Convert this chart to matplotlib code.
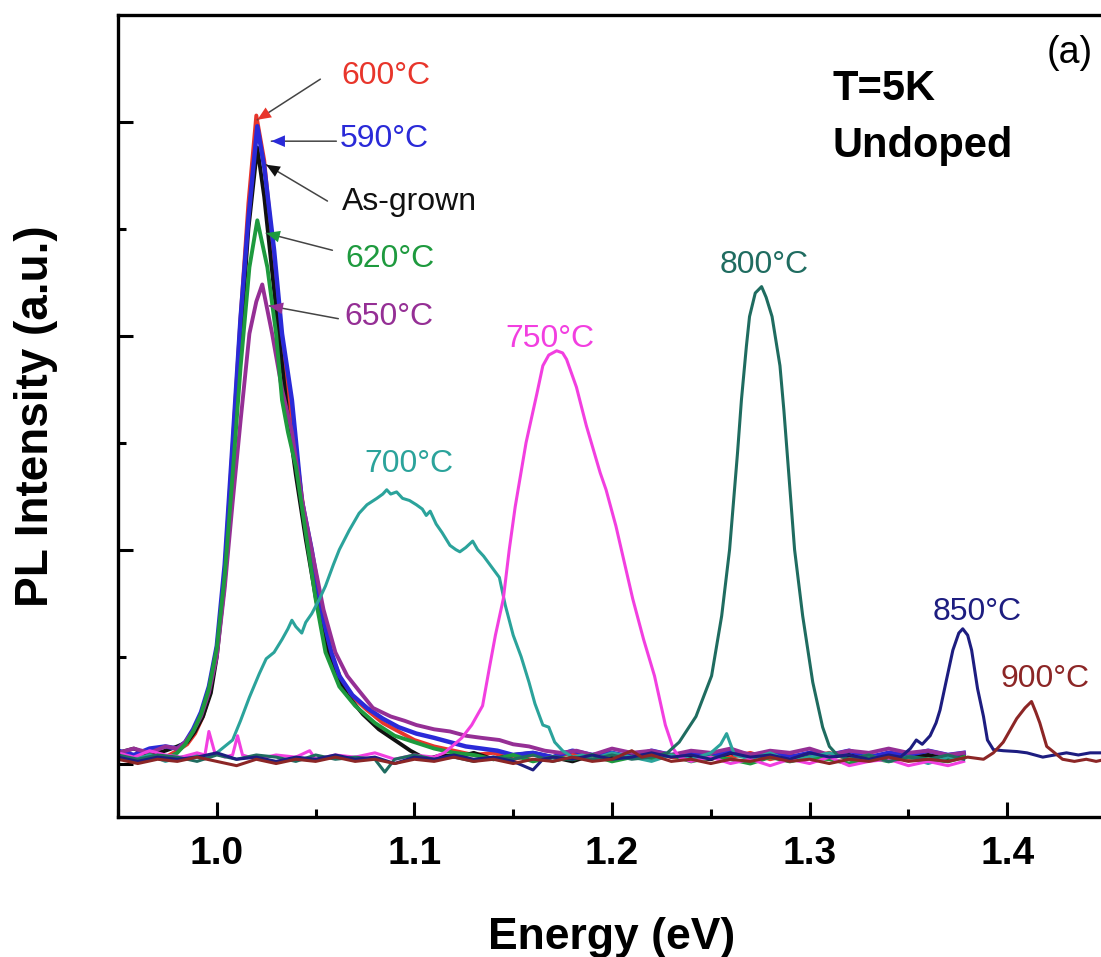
import numpy as np
import matplotlib
matplotlib.use('Agg')
import matplotlib.pyplot as plt

plt.rcParams['font.family'] = ['Liberation Sans', 'DejaVu Sans']

# PL spectra at 5 K, (energy eV, intensity a.u.) for each anneal
pl_600 = [(0.950, 0.04), (0.958, 0.02), (0.966, 0.05), (0.974, 0.03), (0.980, 0.06), (0.985, 0.09),
          (0.989, 0.14), (0.993, 0.22), (0.997, 0.35), (1.000, 0.52), (1.004, 0.90), (1.008, 1.48),
          (1.012, 2.08), (1.016, 2.62), (1.020, 3.03), (1.024, 2.82), (1.028, 2.44), (1.032, 2.05),
          (1.036, 1.75), (1.040, 1.47), (1.044, 1.18), (1.048, 0.95), (1.053, 0.70), (1.058, 0.51),
          (1.063, 0.39), (1.069, 0.31), (1.076, 0.25), (1.084, 0.19), (1.092, 0.15), (1.100, 0.11),
          (1.110, 0.08), (1.120, 0.06), (1.130, 0.04), (1.140, 0.05), (1.150, 0.02), (1.160, 0.04),
          (1.170, 0.03), (1.180, 0.05), (1.190, 0.02), (1.200, 0.04), (1.210, 0.03), (1.220, 0.05),
          (1.230, 0.03), (1.240, 0.02), (1.250, 0.04), (1.260, 0.03), (1.270, 0.05), (1.280, 0.02),
          (1.290, 0.04), (1.300, 0.03), (1.310, 0.05), (1.320, 0.02), (1.330, 0.04), (1.340, 0.03),
          (1.350, 0.02), (1.360, 0.04), (1.370, 0.03), (1.378, 0.04)]

pl_asgrown = [(0.950, 0.05), (0.958, 0.07), (0.966, 0.04), (0.974, 0.06), (0.980, 0.08), (0.985, 0.10),
              (0.989, 0.15), (0.993, 0.22), (0.997, 0.33), (1.000, 0.50), (1.004, 0.85), (1.008, 1.40),
              (1.012, 1.98), (1.016, 2.50), (1.0205, 2.88), (1.024, 2.65), (1.028, 2.30), (1.032, 1.95),
              (1.036, 1.62), (1.040, 1.35), (1.045, 1.05), (1.050, 0.78), (1.055, 0.56), (1.060, 0.42),
              (1.066, 0.32), (1.074, 0.23), (1.082, 0.16), (1.090, 0.11), (1.098, 0.06), (1.106, 0.02),
              (1.114, 0.04), (1.122, 0.03), (1.130, 0.05), (1.140, 0.02), (1.150, 0.04), (1.160, 0.05),
              (1.170, 0.03), (1.180, 0.01), (1.190, 0.04), (1.200, 0.03), (1.210, 0.05), (1.220, 0.02),
              (1.230, 0.04), (1.240, 0.03), (1.250, 0.02), (1.260, 0.05), (1.270, 0.03), (1.280, 0.04),
              (1.290, 0.02), (1.300, 0.05), (1.310, 0.03), (1.320, 0.04), (1.330, 0.02), (1.340, 0.05),
              (1.350, 0.03), (1.360, 0.04), (1.370, 0.02), (1.378, 0.03)]

pl_590 = [(0.950, 0.06), (0.958, 0.04), (0.966, 0.07), (0.974, 0.08), (0.980, 0.07), (0.984, 0.10),
          (0.988, 0.16), (0.992, 0.24), (0.996, 0.36), (1.000, 0.55), (1.004, 0.93), (1.008, 1.50),
          (1.012, 2.08), (1.016, 2.55), (1.0205, 2.98), (1.024, 2.79), (1.029, 2.40), (1.033, 2.01),
          (1.038, 1.70), (1.043, 1.23), (1.048, 1.00), (1.0535, 0.69), (1.058, 0.52), (1.062, 0.41),
          (1.0686, 0.32), (1.076, 0.26), (1.084, 0.21), (1.092, 0.17), (1.101, 0.14), (1.110, 0.12),
          (1.118, 0.10), (1.126, 0.08), (1.134, 0.07), (1.142, 0.06), (1.150, 0.04), (1.160, 0.05),
          (1.170, 0.03), (1.180, 0.06), (1.190, 0.04), (1.200, 0.05), (1.210, 0.03), (1.220, 0.06),
          (1.230, 0.04), (1.240, 0.05), (1.250, 0.03), (1.260, 0.06), (1.270, 0.04), (1.280, 0.05),
          (1.290, 0.03), (1.300, 0.05), (1.310, 0.04), (1.320, 0.06), (1.330, 0.03), (1.340, 0.05),
          (1.350, 0.04), (1.360, 0.06), (1.370, 0.04), (1.378, 0.05)]

pl_650 = [(0.950, 0.05), (0.958, 0.07), (0.966, 0.05), (0.974, 0.08), (0.980, 0.07), (0.984, 0.10),
          (0.988, 0.15), (0.992, 0.22), (0.996, 0.33), (1.000, 0.50), (1.004, 0.82), (1.008, 1.22),
          (1.012, 1.60), (1.0165, 2.01), (1.020, 2.16), (1.023, 2.24), (1.028, 2.01), (1.033, 1.75),
          (1.038, 1.55), (1.043, 1.24), (1.048, 1.00), (1.054, 0.72), (1.060, 0.52), (1.066, 0.41),
          (1.072, 0.34), (1.079, 0.26), (1.088, 0.22), (1.095, 0.20), (1.101, 0.18), (1.110, 0.16),
          (1.118, 0.15), (1.126, 0.13), (1.134, 0.12), (1.143, 0.11), (1.150, 0.09), (1.158, 0.08),
          (1.166, 0.06), (1.174, 0.05), (1.182, 0.06), (1.190, 0.04), (1.200, 0.07), (1.210, 0.05),
          (1.220, 0.06), (1.230, 0.04), (1.240, 0.06), (1.250, 0.05), (1.260, 0.07), (1.270, 0.04),
          (1.280, 0.06), (1.290, 0.05), (1.300, 0.07), (1.310, 0.04), (1.320, 0.06), (1.330, 0.05),
          (1.340, 0.07), (1.350, 0.05), (1.360, 0.06), (1.370, 0.04), (1.378, 0.05)]

pl_620 = [(0.950, 0.03), (0.958, 0.01), (0.966, 0.04), (0.974, 0.02), (0.980, 0.05), (0.984, 0.09),
          (0.988, 0.15), (0.992, 0.23), (0.996, 0.35), (1.000, 0.54), (1.004, 0.88), (1.008, 1.35),
          (1.012, 1.85), (1.0165, 2.32), (1.0205, 2.54), (1.0256, 2.32), (1.030, 2.01), (1.033, 1.70),
          (1.036, 1.55), (1.040, 1.39), (1.045, 1.08), (1.050, 0.77), (1.055, 0.52), (1.062, 0.36),
          (1.070, 0.27), (1.080, 0.19), (1.090, 0.13), (1.100, 0.10), (1.110, 0.07), (1.120, 0.05),
          (1.130, 0.04), (1.140, 0.02), (1.150, 0.04), (1.160, 0.01), (1.170, 0.03), (1.180, 0.02),
          (1.190, 0.04), (1.200, 0.01), (1.210, 0.03), (1.220, 0.02), (1.230, 0.04), (1.240, 0.01),
          (1.250, 0.03), (1.260, 0.02), (1.270, 0.00), (1.280, 0.03), (1.290, 0.01), (1.300, 0.03),
          (1.310, 0.02), (1.320, 0.00), (1.330, 0.03), (1.340, 0.01), (1.350, 0.03), (1.360, 0.02),
          (1.370, 0.01), (1.378, 0.03)]

pl_700 = [(0.950, 0.05), (0.958, 0.02), (0.966, 0.04), (0.974, 0.01), (0.982, 0.03), (0.990, 0.04),
          (0.996, 0.03), (1.000, 0.05), (1.004, 0.08), (1.008, 0.11), (1.012, 0.20), (1.0165, 0.31),
          (1.0215, 0.42), (1.025, 0.49), (1.029, 0.52), (1.033, 0.58), (1.036, 0.63), (1.038, 0.67),
          (1.040, 0.64), (1.043, 0.61), (1.045, 0.66), (1.048, 0.70), (1.052, 0.77), (1.055, 0.83),
          (1.059, 0.93), (1.062, 1.00), (1.067, 1.09), (1.072, 1.17), (1.076, 1.21), (1.081, 1.24),
          (1.084, 1.26), (1.086, 1.28), (1.088, 1.26), (1.091, 1.27), (1.094, 1.24), (1.0975, 1.23),
          (1.101, 1.21), (1.104, 1.19), (1.106, 1.16), (1.108, 1.18), (1.111, 1.12), (1.114, 1.08),
          (1.118, 1.02), (1.121, 1.00), (1.123, 0.99), (1.126, 1.01), (1.1295, 1.04), (1.132, 1.00),
          (1.135, 0.97), (1.139, 0.92), (1.143, 0.87), (1.146, 0.74), (1.150, 0.60), (1.154, 0.50),
          (1.158, 0.38), (1.161, 0.28), (1.165, 0.18), (1.168, 0.17), (1.171, 0.10), (1.175, 0.06),
          (1.180, 0.03), (1.185, 0.04), (1.190, 0.02), (1.200, 0.05), (1.210, 0.03), (1.220, 0.01),
          (1.230, 0.04), (1.240, 0.02), (1.250, 0.05), (1.255, 0.09), (1.258, 0.14), (1.262, 0.04),
          (1.270, 0.02), (1.280, 0.05), (1.290, 0.01), (1.300, 0.03), (1.310, 0.05), (1.320, 0.02),
          (1.330, 0.04), (1.340, 0.01), (1.350, 0.03), (1.360, 0.00), (1.370, 0.03), (1.378, 0.02)]

pl_750 = [(0.950, 0.05), (0.958, 0.03), (0.966, 0.06), (0.974, 0.04), (0.982, 0.03), (0.990, 0.05),
          (0.994, 0.04), (0.996, 0.15), (0.999, 0.05), (1.004, 0.03), (1.008, 0.04), (1.0105, 0.13),
          (1.013, 0.04), (1.020, 0.02), (1.030, 0.04), (1.040, 0.03), (1.047, 0.06), (1.050, 0.02),
          (1.060, 0.04), (1.070, 0.03), (1.080, 0.05), (1.090, 0.02), (1.100, 0.04), (1.110, 0.03),
          (1.115, 0.05), (1.119, 0.08), (1.124, 0.12), (1.129, 0.18), (1.1345, 0.27), (1.138, 0.45),
          (1.141, 0.60), (1.145, 0.77), (1.148, 1.00), (1.151, 1.20), (1.1565, 1.50), (1.162, 1.73),
          (1.165, 1.86), (1.168, 1.91), (1.172, 1.93), (1.175, 1.92), (1.177, 1.89), (1.182, 1.76),
          (1.187, 1.58), (1.194, 1.36), (1.197, 1.28), (1.202, 1.11), (1.2105, 0.77), (1.216, 0.58),
          (1.2215, 0.41), (1.227, 0.18), (1.231, 0.07), (1.234, 0.03), (1.240, 0.01), (1.250, 0.03),
          (1.260, 0.00), (1.270, 0.02), (1.280, -0.01), (1.290, 0.02), (1.300, 0.00), (1.310, 0.03),
          (1.320, -0.01), (1.330, 0.01), (1.340, 0.02), (1.350, -0.01), (1.360, 0.01), (1.370, -0.01),
          (1.378, 0.01)]

pl_800 = [(0.950, 0.04), (0.960, 0.02), (0.970, 0.04), (0.980, 0.03), (0.990, 0.01), (1.000, 0.04),
          (1.010, 0.02), (1.020, 0.04), (1.030, 0.03), (1.040, 0.01), (1.050, 0.04), (1.060, 0.02),
          (1.070, 0.03), (1.080, 0.02), (1.085, -0.04), (1.090, 0.02), (1.100, 0.04), (1.110, 0.02),
          (1.120, 0.03), (1.130, 0.01), (1.140, 0.03), (1.150, 0.02), (1.160, 0.04), (1.170, 0.01),
          (1.180, 0.03), (1.190, 0.02), (1.200, 0.04), (1.210, 0.02), (1.220, 0.03), (1.228, 0.05),
          (1.234, 0.10), (1.2425, 0.22), (1.2504, 0.41), (1.2555, 0.69), (1.2595, 1.00), (1.2635, 1.45),
          (1.2655, 1.70), (1.268, 1.95), (1.2696, 2.09), (1.2725, 2.20), (1.2757, 2.23), (1.278, 2.18),
          (1.281, 2.09), (1.285, 1.86), (1.287, 1.65), (1.2895, 1.35), (1.2924, 1.00), (1.2965, 0.69),
          (1.3016, 0.38), (1.3066, 0.17), (1.310, 0.08), (1.314, 0.04), (1.320, 0.02), (1.330, 0.04),
          (1.340, 0.01), (1.350, 0.03), (1.360, 0.02), (1.370, 0.04), (1.378, 0.02)]

pl_850 = [(0.950, 0.03), (0.960, 0.01), (0.970, 0.03), (0.980, 0.02), (0.990, 0.03), (1.000, 0.05),
          (1.010, 0.02), (1.020, 0.03), (1.030, 0.01), (1.040, 0.03), (1.050, 0.02), (1.060, 0.04),
          (1.070, 0.02), (1.080, 0.03), (1.090, 0.00), (1.100, 0.03), (1.110, 0.02), (1.120, 0.04),
          (1.130, 0.02), (1.140, 0.03), (1.150, 0.01), (1.160, -0.03), (1.165, 0.02), (1.170, 0.03),
          (1.180, 0.02), (1.190, 0.04), (1.200, 0.02), (1.210, 0.03), (1.220, 0.05), (1.230, 0.03),
          (1.240, 0.04), (1.250, 0.02), (1.260, 0.05), (1.270, 0.03), (1.280, 0.04), (1.290, 0.02),
          (1.300, 0.05), (1.310, 0.03), (1.320, 0.04), (1.330, 0.02), (1.340, 0.04), (1.346, 0.03),
          (1.351, 0.07), (1.354, 0.11), (1.357, 0.09), (1.361, 0.13), (1.364, 0.19), (1.366, 0.25),
          (1.369, 0.38), (1.3725, 0.53), (1.3755, 0.61), (1.3775, 0.63), (1.380, 0.60), (1.382, 0.53),
          (1.385, 0.35), (1.388, 0.22), (1.390, 0.11), (1.393, 0.065), (1.398, 0.06), (1.405, 0.056),
          (1.410, 0.05), (1.418, 0.03), (1.424, 0.04), (1.430, 0.05), (1.436, 0.04), (1.442, 0.05),
          (1.450, 0.05)]

pl_900 = [(0.950, 0.02), (0.960, 0.00), (0.970, 0.02), (0.980, 0.01), (0.990, 0.03), (1.000, 0.01),
          (1.010, -0.01), (1.020, 0.02), (1.030, 0.00), (1.040, 0.02), (1.050, 0.01), (1.060, 0.03),
          (1.070, 0.01), (1.080, 0.02), (1.090, 0.00), (1.100, 0.02), (1.110, 0.01), (1.120, 0.03),
          (1.130, 0.01), (1.140, 0.02), (1.150, 0.00), (1.160, 0.02), (1.170, 0.01), (1.180, 0.03),
          (1.190, 0.01), (1.200, 0.02), (1.210, 0.06), (1.215, 0.03), (1.220, 0.04), (1.230, 0.01),
          (1.240, 0.02), (1.250, 0.00), (1.260, 0.02), (1.270, 0.01), (1.280, 0.03), (1.290, 0.01),
          (1.300, 0.02), (1.310, 0.00), (1.320, 0.02), (1.330, 0.01), (1.340, 0.03), (1.350, 0.01),
          (1.360, 0.02), (1.370, 0.01), (1.380, 0.03), (1.388, 0.02), (1.393, 0.05), (1.398, 0.10),
          (1.4048, 0.21), (1.409, 0.26), (1.4123, 0.29), (1.4145, 0.24), (1.4165, 0.19), (1.420, 0.08),
          (1.424, 0.05), (1.428, 0.02), (1.434, 0.01), (1.440, 0.02), (1.445, 0.01), (1.450, 0.02)]

c600, c590, c_as, c620, c650 = '#e8352b', '#2a2ad8', '#111111', '#1e9a3e', '#952f95'
c700, c750, c800, c850, c900 = '#2ba39b', '#f23fe0', '#1f6c60', '#1d1d80', '#8c2626'

# drawing order: the 590 C trace sits over 600 C and as-grown
curves = [(pl_600, c600, 2.8), (pl_asgrown, c_as, 2.8), (pl_590, c590, 3.2),
          (pl_650, c650, 2.8), (pl_620, c620, 2.8), (pl_700, c700, 2.2),
          (pl_750, c750, 2.2), (pl_800, c800, 2.2), (pl_850, c850, 2.2), (pl_900, c900, 2.2)]

# labels with arrows: text, colour, text pos, arrow tail, arrow tip
arrow_labels = [('600°C', c600, (1.0854, 3.178), (1.0524, 3.20), (1.0205, 3.01)),
                ('590°C', c590, (1.0848, 2.883), (1.0605, 2.91), (1.0276, 2.91)),
                ('As-grown', c_as, (1.0975, 2.589), (1.0560, 2.63), (1.0250, 2.80)),
                ('620°C', c620, (1.0878, 2.322), (1.0585, 2.40), (1.0250, 2.48)),
                ('650°C', c650, (1.0873, 2.051), (1.0615, 2.08), (1.0266, 2.14))]

plain_labels = [('700°C', c700, (1.0970, 1.364)),
                ('750°C', c750, (1.1684, 1.949)),
                ('800°C', c800, (1.2770, 2.294)),
                ('850°C', c850, (1.3848, 0.673)),
                ('900°C', c900, (1.4190, 0.360))]

fig = plt.figure(figsize=(11.01, 9.57), dpi=100)
ax = fig.add_axes([118 / 1101, 1 - 817 / 957, (1106 - 118) / 1101, (817 - 15) / 957])

for data, color, lw in curves:
    arr = np.array(data)
    ax.plot(arr[:, 0], arr[:, 1], color=color, lw=lw, solid_joinstyle='round')

for text, color, pos, tail, tip in arrow_labels:
    ax.text(pos[0], pos[1], text, color=color, fontsize=23, ha='center', va='baseline')
    ax.annotate('', xy=tip, xytext=tail,
                arrowprops=dict(arrowstyle='-', color='#444444', lw=1.1, shrinkA=0, shrinkB=0))
    ax.annotate('', xy=tip, xytext=tail,
                arrowprops=dict(arrowstyle='-|>,head_length=0.7,head_width=0.3', color=color,
                                lw=0, mutation_scale=14, shrinkA=0, shrinkB=0))

for text, color, pos in plain_labels:
    ax.text(pos[0], pos[1], text, color=color, fontsize=23, ha='center', va='baseline')

ax.text(1.3117, 3.103, 'T=5K', fontsize=30, fontweight='bold', ha='left', va='baseline')
ax.text(1.3117, 2.836, 'Undoped', fontsize=30, fontweight='bold', ha='left', va='baseline')
ax.text(1.4316, 3.276, '(a)', fontsize=27, ha='center', va='baseline')

ax.set_xlim(0.95, 1.45)
ax.set_ylim(-0.25, 3.5)
ax.set_xticks([1.0, 1.1, 1.2, 1.3, 1.4])
ax.set_xticks([0.95, 1.05, 1.15, 1.25, 1.35, 1.45], minor=True)
ax.set_yticks([0, 1, 2, 3])
ax.set_yticks([0.5, 1.5, 2.5], minor=True)
ax.set_xticklabels(['1.0', '1.1', '1.2', '1.3', '1.4'], fontsize=28, fontweight='bold')
ax.tick_params(axis='y', labelleft=False)
ax.tick_params(which='major', direction='in', length=11, width=2.2, top=False, right=False)
ax.tick_params(which='minor', direction='in', length=5.5, width=2.2, top=False, right=False)
ax.tick_params(axis='x', which='major', pad=14)

for side in ax.spines.values():
    side.set_linewidth(2.4)

ax.set_xlabel('Energy (eV)', fontsize=32, fontweight='bold', labelpad=32)
ax.set_ylabel('PL Intensity (a.u.)', fontsize=33, fontweight='bold', labelpad=40)

fig.savefig('out.png', dpi=100)
